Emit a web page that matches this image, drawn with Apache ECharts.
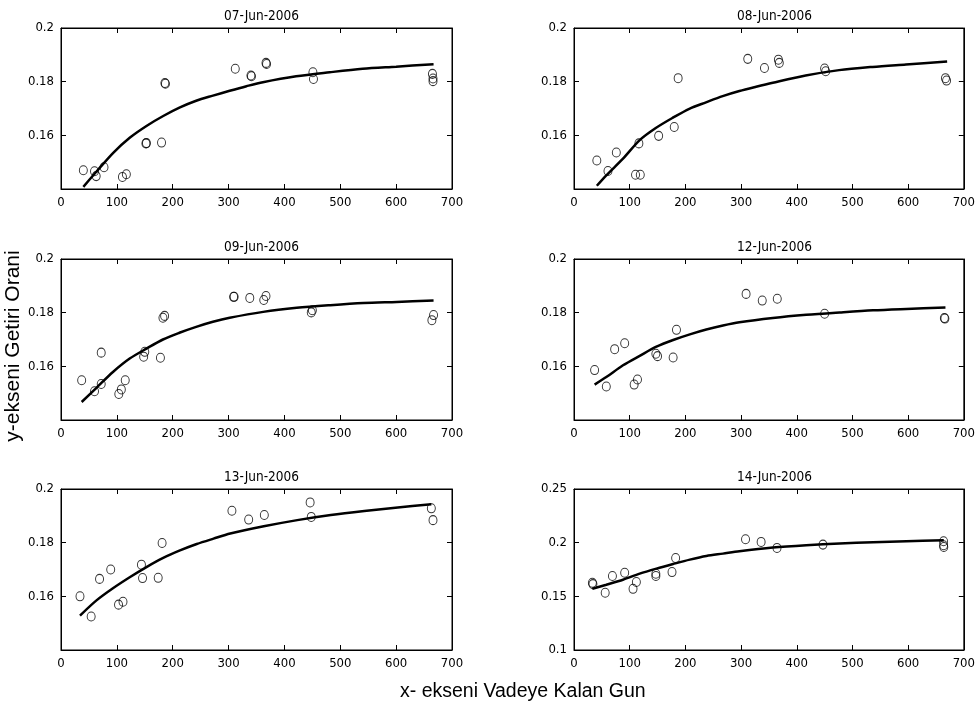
<!DOCTYPE html>
<html>
<head>
<meta charset="utf-8">
<script src="https://cdn.jsdelivr.net/npm/echarts@6/dist/echarts.min.js"></script>
<style>
html,body{margin:0;padding:0;background:#fff;}
#chart{width:978px;height:712px;}
</style>
</head>
<body>
<div id="chart"></div>
<script>
// ---- data ----
const panelTitles = ['07-Jun-2006','08-Jun-2006','09-Jun-2006','12-Jun-2006','13-Jun-2006','14-Jun-2006'];
const xAxisLabel = 'x- ekseni Vadeye Kalan Gun';
const yAxisLabel = 'y-ekseni Getiri Orani';

const p1ScatterX = [40,60,63,77,110,117,152,153,180,186,187,312,340,341,367,368,451,452,665,666,666];
const p1ScatterY = [0.147,0.1466,0.1448,0.1481,0.1445,0.1455,0.157,0.1571,0.1573,0.1795,0.1792,0.1848,0.1823,0.1820,0.187,0.1866,0.1835,0.181,0.1829,0.1812,0.1802];
const p1CurveX = [40,64,93.5,123,153,183,213,242,272,302,332,361.5,421,481,540,600,667];
const p1CurveY = [0.1408,0.1466,0.1535,0.1591,0.1635,0.1672,0.1704,0.1729,0.1748,0.1766,0.1783,0.1798,0.1820,0.1835,0.1848,0.1856,0.1865];

const p2ScatterX = [41,61,76,110.5,119,116.5,152,180,187,312,342,367,368.6,450,452,667,669];
const p2ScatterY = [0.1506,0.1467,0.1536,0.1453,0.1453,0.157,0.1598,0.1631,0.1813,0.1885,0.1851,0.1882,0.187,0.1849,0.1839,0.1813,0.1804];
const p2CurveX = [41,58,88,118,147.5,177,207,237,267,297,327,357,416,476,536,596,670];
const p2CurveY = [0.1412,0.1451,0.1513,0.1582,0.1628,0.1665,0.1699,0.1723,0.1746,0.1765,0.1781,0.1796,0.1823,0.1843,0.1855,0.1864,0.1875];

const p3ScatterX = [37,60,72,72,103.5,108,115,148,150,178,182.5,185.5,309,310,338,363,367,448,450,664,667];
const p3ScatterY = [0.1548,0.1507,0.1651,0.1534,0.1497,0.1514,0.1548,0.1636,0.1654,0.1632,0.1781,0.1788,0.1859,0.1859,0.1855,0.1847,0.1862,0.1801,0.1809,0.1772,0.1791];
const p3CurveX = [37,63,93,123,153,182.5,212,242,272,302,362,422,482,541.5,601,667];
const p3CurveY = [0.1467,0.1519,0.1579,0.1629,0.1666,0.1700,0.1725,0.1747,0.1766,0.1781,0.1803,0.1818,0.1828,0.1836,0.1840,0.1845];

const p4ScatterX = [37,58,73,91,108,114,147,150,178,184,309,338,365,450,665,666];
const p4ScatterY = [0.1586,0.1525,0.1664,0.1686,0.1532,0.1551,0.1647,0.1638,0.1633,0.1736,0.187,0.1845,0.1852,0.1796,0.178,0.1778];
const p4CurveX = [37,58,88,118,148,178,208,237.6,267.5,297,357,417,477,537,597,667];
const p4CurveY = [0.1532,0.156,0.1604,0.1639,0.1673,0.1698,0.1719,0.1737,0.1752,0.1764,0.1780,0.1792,0.1801,0.1809,0.1814,0.1819];

const p5ScatterX = [34,54,69,89,103,111,144,146,174,181,306,336,364,446,448,663,666];
const p5ScatterY = [0.16,0.1525,0.1665,0.17,0.1569,0.158,0.1718,0.1668,0.1669,0.1799,0.1919,0.1886,0.1903,0.195,0.1896,0.1928,0.1884];
const p5CurveX = [34,63,93,123,153,183,213,243,273,303,363,423,483,543,603,663];
const p5CurveY = [0.1528,0.1584,0.1630,0.1671,0.1709,0.1743,0.1771,0.1795,0.1815,0.1834,0.1861,0.1884,0.1903,0.1918,0.1931,0.1943];

const p6ScatterX = [33,34,56,69,91,106,112,147,147,176,182.5,308,336,364.5,447,663.6,663.6,664];
const p6ScatterY = [0.1627,0.1614,0.1533,0.1689,0.172,0.157,0.1633,0.1711,0.1689,0.1726,0.1857,0.2032,0.2007,0.1951,0.1982,0.2013,0.1976,0.196];
const p6CurveX = [33,58,88,118,148,178,208,237.6,267.5,297,357,417,477,537,597,664];
const p6CurveY = [0.1570,0.1608,0.1655,0.1711,0.1758,0.1801,0.1842,0.1876,0.1898,0.1920,0.1954,0.1976,0.1992,0.2004,0.2013,0.2023];

const xRange = [0, 700, 100];
const yRanges = [[0.14,0.2,0.02],[0.14,0.2,0.02],[0.14,0.2,0.02],[0.14,0.2,0.02],[0.14,0.2,0.02],[0.1,0.25,0.05]];

// ---- build chart ----
const scatters = [[p1ScatterX,p1ScatterY],[p2ScatterX,p2ScatterY],[p3ScatterX,p3ScatterY],[p4ScatterX,p4ScatterY],[p5ScatterX,p5ScatterY],[p6ScatterX,p6ScatterY]];
const curves = [[p1CurveX,p1CurveY],[p2CurveX,p2CurveY],[p3CurveX,p3CurveY],[p4CurveX,p4CurveY],[p5CurveX,p5CurveY],[p6CurveX,p6CurveY]];
const zip = (a,b) => a.map((v,i)=>[v,b[i]]);

const colLeft = [61, 574];
const rowTop = [28, 259, 489];
const W = 391, H = 161;
const tickFont = "'Liberation Sans Narrow','Arial Narrow','DejaVu Sans Condensed',sans-serif";

const grids = [], xAxes = [], yAxes = [], series = [], titles = [];
for (let i = 0; i < 6; i++) {
  const r = Math.floor(i/2), c = i%2;
  grids.push({left: colLeft[c], top: rowTop[r], width: W, height: H, show: true, borderColor: '#000', borderWidth: 1, backgroundColor: 'transparent'});
  const xb = {gridIndex: i, type: 'value', min: xRange[0], max: xRange[1], interval: xRange[2],
    axisLine: {show: true, onZero: false, lineStyle: {color: '#000', width: 1}},
    axisTick: {show: true, inside: true, length: 5, lineStyle: {color: '#000'}},
    splitLine: {show: false}};
  xAxes.push(Object.assign({}, xb, {position: 'bottom',
    axisLabel: {show: true, color: '#000', fontSize: 13, fontFamily: tickFont, margin: 7}}));
  xAxes.push(Object.assign({}, xb, {position: 'top', axisLabel: {show: false}}));
  const yr = yRanges[i];
  const yb = {gridIndex: i, type: 'value', min: yr[0], max: yr[1], interval: yr[2],
    axisLine: {show: true, onZero: false, lineStyle: {color: '#000', width: 1}},
    axisTick: {show: true, inside: true, length: 5, lineStyle: {color: '#000'}},
    splitLine: {show: false}};
  yAxes.push(Object.assign({}, yb, {position: 'left',
    axisLabel: {show: true, color: '#000', fontSize: 13, fontFamily: tickFont, margin: 7,
      showMinLabel: i === 5, formatter: v => String(+v.toFixed(4))}}));
  yAxes.push(Object.assign({}, yb, {position: 'right', axisLabel: {show: false}}));
  titles.push({text: panelTitles[i], left: colLeft[c] + W/2, top: rowTop[r] - 24, textAlign: 'center',
    textStyle: {fontSize: 13.5, fontWeight: 'normal', color: '#000', fontFamily: tickFont}});
  series.push({type: 'line', xAxisIndex: 2*i, yAxisIndex: 2*i, data: zip(curves[i][0], curves[i][1]),
    showSymbol: false, smooth: 0.3, lineStyle: {color: '#000', width: 2.5}, z: 3, silent: true});
  series.push({type: 'scatter', xAxisIndex: 2*i, yAxisIndex: 2*i, data: zip(scatters[i][0], scatters[i][1]),
    symbol: 'circle', symbolSize: [8, 9],
    itemStyle: {color: 'rgba(0,0,0,0)', borderColor: '#000', borderWidth: 1}, z: 4, silent: true});
}

const chart = echarts.init(document.getElementById('chart'), null, {renderer: 'canvas'});
chart.setOption({
  backgroundColor: '#fff',
  animation: false,
  title: titles,
  grid: grids,
  xAxis: xAxes,
  yAxis: yAxes,
  series: series,
  graphic: [
    {type: 'text', left: 400, top: 682, style: {text: xAxisLabel, fontSize: 19.5, fill: '#000', fontFamily: "'Liberation Sans',Arial,sans-serif"}},
    {type: 'text', x: 13, y: 346, rotation: Math.PI/2, style: {text: yAxisLabel, fontSize: 21, fill: '#000', align: 'center', verticalAlign: 'middle', fontFamily: "'Liberation Sans',Arial,sans-serif"}}
  ]
});
</script>
</body>
</html>
